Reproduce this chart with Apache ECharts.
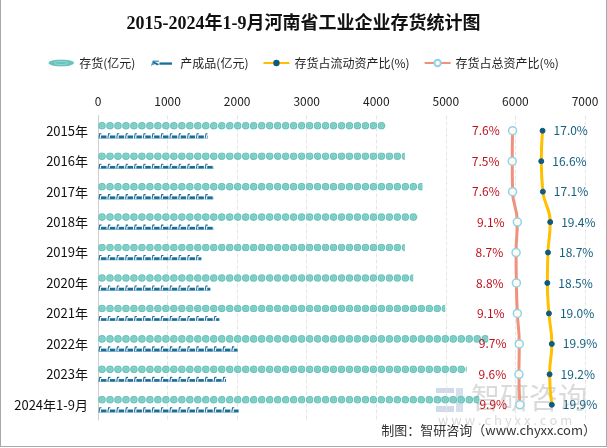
<!DOCTYPE html>
<html>
<head>
<meta charset="utf-8">
<script src="https://cdn.jsdelivr.net/npm/echarts@6/dist/echarts.min.js"></script>
<style>
html,body{margin:0;padding:0;background:#fff;}
#c{width:605px;height:446px;border-left:1px solid #a8a8a8;border-right:1px solid #a8a8a8;border-bottom:1px solid #a8a8a8;}
</style>
</head>
<body>
<div id="c"></div>
<script>
var categories = ['2015年','2016年','2017年','2018年','2019年','2020年','2021年','2022年','2023年','2024年1-9月'];
var inventory = [4138, 4410, 4663, 4597, 4410, 4530, 4990, 5610, 5300, 5480];
var finishedGoods = [1577, 1663, 1663, 1663, 1486, 1615, 1744, 2007, 1840, 2021];
var ratioCurrent = [17.0, 16.6, 17.1, 19.4, 18.7, 18.5, 19.0, 19.9, 19.2, 19.9];
var ratioTotal = [7.6, 7.5, 7.6, 9.1, 8.7, 8.8, 9.1, 9.7, 9.6, 9.9];
var xTicks = {min: 0, max: 7000, interval: 1000};

function svgUri(s){ return 'image://data:image/svg+xml;charset=utf-8,' + encodeURIComponent(s); }
var coinSvg = "<svg xmlns='http://www.w3.org/2000/svg' width='16' height='16' viewBox='0 0 16 16'><circle cx='8' cy='8' r='7.6' fill='#6ac4bc'/><circle cx='8' cy='8' r='4.2' fill='none' stroke='#a9e1da' stroke-width='1.4'/><path d='M8 6v3h2' stroke='#a9e1da' stroke-width='1.3' fill='none'/></svg>";
var boxSvg = "<svg xmlns='http://www.w3.org/2000/svg' width='18' height='12' viewBox='0 0 18 12'><path d='M2 11 L3.5 2 L7 2' stroke='#1b6e98' stroke-width='2.2' fill='none'/><rect x='6' y='5.5' width='11' height='5.5' fill='#1b6e98'/><rect x='1' y='10.5' width='17' height='1.5' fill='#5a9fc0'/></svg>";
var coinLegendSvg = "<svg xmlns='http://www.w3.org/2000/svg' width='50' height='14' viewBox='0 0 50 14'><ellipse cx='25' cy='7' rx='24.5' ry='6.5' fill='#6ac4bc'/><ellipse cx='25' cy='7' rx='13' ry='3' fill='none' stroke='#a9e1da' stroke-width='1.2'/></svg>";
var boxLegendSvg = "<svg xmlns='http://www.w3.org/2000/svg' width='40' height='14' viewBox='0 0 40 14'><path d='M14 4 L4 4 L2 10 L8 7 L14 10' stroke='#5a9fc0' stroke-width='2.5' fill='none'/><path d='M4 5 L12 10' stroke='#1b6e98' stroke-width='3'/><rect x='15' y='6' width='22' height='4' fill='#1b6e98'/></svg>";

var chart = echarts.init(document.getElementById('c'));
var font = "'Noto Sans CJK SC', sans-serif";
chart.setOption({
  animation: false,
  textStyle: {fontFamily: font},
  title: {
    text: '2015-2024年1-9月河南省工业企业存货统计图',
    left: 'center', top: 10,
    textStyle: {fontSize: 18, fontWeight: 'bold', color: '#111', fontFamily: "'Liberation Serif','Noto Sans CJK SC',serif"}
  },
  legend: {
    top: 52, left: 'center', itemWidth: 26, itemHeight: 8, itemGap: 14,
    textStyle: {fontSize: 12, color: '#222'},
    data: [
      {name: '存货(亿元)', icon: svgUri(coinLegendSvg)},
      {name: '产成品(亿元)', icon: svgUri(boxLegendSvg)},
      '存货占流动资产比(%)', '存货占总资产比(%)'
    ]
  },
  grid: {left: 97, right: 21, top: 115.5, bottom: 26},
  xAxis: [{
    type: 'value', position: 'top', min: xTicks.min, max: xTicks.max, interval: xTicks.interval,
    axisLine: {show: false}, axisTick: {show: false},
    axisLabel: {fontSize: 12, color: '#222', margin: 8, formatter: function(v){ return String(v); }},
    splitLine: {lineStyle: {type: 'dashed', color: '#e6e6e6'}}
  }, {
    type: 'value', min: -122.3, max: 30.3, show: false
  }],
  yAxis: {
    type: 'category', data: categories, inverse: true,
    axisLine: {lineStyle: {color: '#cfcfcf'}}, axisTick: {show: false},
    axisLabel: {fontSize: 13, color: '#111', margin: 10}
  },
  series: [{
    name: '存货(亿元)', type: 'pictorialBar', data: inventory,
    symbol: svgUri(coinSvg), symbolSize: [8, 8], symbolRepeat: true, symbolClip: true,
    symbolMargin: 0, barWidth: 8, barGap: '25%', z: 2, itemStyle: {color: '#6ac4bc'}
  }, {
    name: '产成品(亿元)', type: 'pictorialBar', data: finishedGoods,
    symbol: svgUri(boxSvg), symbolSize: [9, 6], symbolRepeat: true, symbolClip: true,
    symbolMargin: 0, barWidth: 8, barGap: '25%', z: 2, itemStyle: {color: '#1b6e98'}
  }, {
    name: '存货占流动资产比(%)', type: 'line', xAxisIndex: 1, data: ratioCurrent, smooth: true,
    lineStyle: {color: '#ffc000', width: 3},
    itemStyle: {color: '#0d5b80', borderColor: '#0d5b80'},
    symbol: 'circle', symbolSize: 5, z: 5,
    label: {show: true, position: 'right', distance: 8, color: '#13607f', fontSize: 12,
      formatter: function(p){ return p.value.toFixed(1) + '%'; }}
  }, {
    name: '存货占总资产比(%)', type: 'line', xAxisIndex: 1, data: ratioTotal, smooth: true,
    lineStyle: {color: '#ef917d', width: 3},
    itemStyle: {color: '#fffbe8', borderColor: '#8fd2f0', borderWidth: 1.5},
    symbol: 'circle', symbolSize: 8, z: 5,
    label: {show: true, position: 'left', distance: 8, color: '#c0101a', fontSize: 12,
      formatter: function(p){ return p.value.toFixed(1) + '%'; }}
  }],
  graphic: [
    {type: 'group', left: 435, top: 388, silent: true, children: [
      {type: 'rect', shape: {x: 0, y: 0, width: 18, height: 5}, style: {fill: 'rgba(120,150,200,0.35)'}},
      {type: 'rect', shape: {x: 0, y: 9, width: 14, height: 5}, style: {fill: 'rgba(120,150,200,0.35)'}},
      {type: 'rect', shape: {x: 0, y: 18, width: 18, height: 6}, style: {fill: 'rgba(120,150,200,0.35)'}},
      {type: 'rect', shape: {x: 20, y: 0, width: 7, height: 24}, style: {fill: 'rgba(120,150,200,0.3)'}}
    ]},
    {type: 'text', left: 470, top: 383, silent: true,
      style: {text: '智研咨询', fontSize: 29, fill: 'rgba(150,150,150,0.35)', fontFamily: font}},
    {type: 'text', left: 437, top: 414, silent: true,
      style: {text: 'w w w . c h y x x . c o m', fontSize: 13, fill: 'rgba(160,160,160,0.4)', fontFamily: font}},
    {type: 'text', right: 10, top: 424, silent: true,
      style: {text: '制图：智研咨询（www.chyxx.com）', fontSize: 13, fill: '#333', fontFamily: font}}
  ]
});
</script>
</body>
</html>
